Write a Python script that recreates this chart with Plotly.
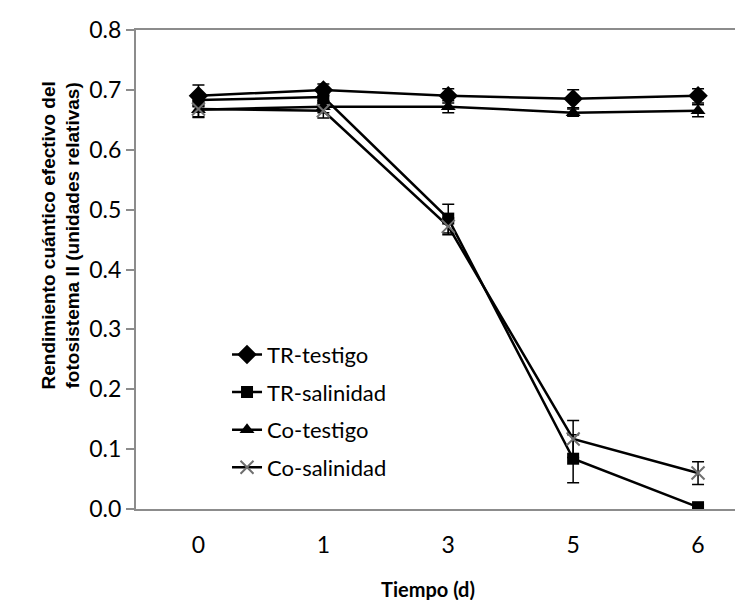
import plotly.graph_objects as go

days = ["0", "1", "3", "5", "6"]
tr_testigo = [0.690, 0.700, 0.690, 0.685, 0.690]
tr_testigo_err = [0.018, 0.010, 0.012, 0.015, 0.012]
tr_salinidad = [0.683, 0.688, 0.485, 0.084, 0.003]
tr_salinidad_err = [0.010, 0.010, 0.024, 0.040, 0.004]
co_testigo = [0.667, 0.672, 0.672, 0.662, 0.665]
co_testigo_err = [0.012, 0.010, 0.010, 0.006, 0.010]
co_salinidad = [0.668, 0.665, 0.472, 0.117, 0.060]
co_salinidad_err = [0.014, 0.012, 0.014, 0.031, 0.019]

series = [
    ("TR-testigo", tr_testigo, tr_testigo_err, "diamond", 15, "black"),
    ("TR-salinidad", tr_salinidad, tr_salinidad_err, "square", 12, "black"),
    ("Co-testigo", co_testigo, co_testigo_err, "triangle-up", 13, "black"),
    ("Co-salinidad", co_salinidad, co_salinidad_err, "x-thin-open", 13, "#707070"),
]

fig = go.Figure()
for i, (name, vals, errs, sym, size, col) in enumerate(series):
    marker = dict(symbol=sym, size=size, color=col)
    if sym.startswith("x"):
        marker["line"] = dict(color=col, width=2)
    fig.add_trace(go.Scatter(
        x=days, y=vals, name=name, mode="lines+markers",
        line=dict(color="black", width=2.5),
        marker=marker,
        legendgroup=f"g{i}",
        error_y=dict(type="data", array=errs, visible=True,
                     color="black", thickness=1.5, width=6),
    ))

fig.update_layout(
    width=743, height=600,
    margin=dict(l=128, r=0, t=22, b=99),
    plot_bgcolor="white", paper_bgcolor="white",
    font=dict(family="Lato, Open Sans, sans-serif", size=22, color="black"),
    showlegend=True,
    legend=dict(x=0.148, y=0.366, xanchor="left", yanchor="top",
                bgcolor="rgba(0,0,0,0)", font=dict(size=22),
                tracegroupgap=6),
    xaxis=dict(type="category", range=[-0.5, 4.424],
               showline=True, linecolor="#8c8c8c", linewidth=2, mirror=True,
               ticks="", showgrid=False, zeroline=False,
               ticklabelstandoff=14,
               tickfont=dict(size=23)),
    yaxis=dict(range=[0, 0.8], dtick=0.1, tickformat=".1f",
               showline=True, linecolor="#8c8c8c", linewidth=2,
               ticks="outside", ticklen=8, tickcolor="#8c8c8c", tickwidth=2,
               showgrid=False, zeroline=False, tickfont=dict(size=23)),
    annotations=[
        dict(text="<b>Tiempo (d)</b>", xref="paper", yref="paper",
             x=(420 - 128) / 615, y=(501.5 - 581) / 479, showarrow=False,
             xanchor="center", yanchor="middle",
             font=dict(family="Lato, Open Sans, sans-serif", size=20)),
        dict(text="<b>Rendimiento cuántico efectivo del<br>fotosistema II (unidades relativas)</b>",
             xref="paper", yref="paper", x=(52 - 128) / 615, y=(501.5 - 228) / 479,
             showarrow=False, textangle=-90, xanchor="center", yanchor="middle",
             font=dict(family="Liberation Sans, Arial, sans-serif", size=19)),
    ],
)

fig.write_html("out.html")
